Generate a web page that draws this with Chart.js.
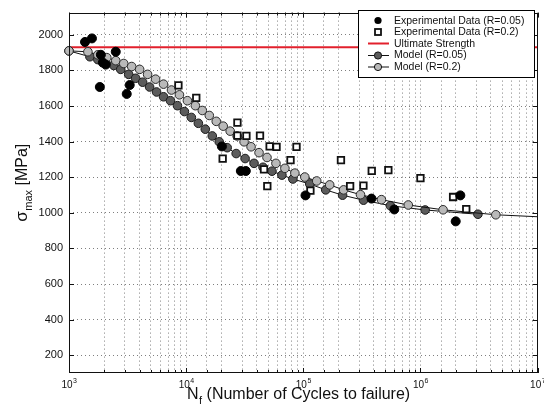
<!DOCTYPE html>
<html>
<head>
<meta charset="utf-8">
<script src="https://cdn.jsdelivr.net/npm/chart.js@4.4.1/dist/chart.umd.min.js"></script>
<style>
  html, body { margin: 0; padding: 0; background: #fff; }
  #wrap { width: 544px; height: 418px; }
</style>
</head>
<body>
<div id="wrap"><canvas id="c" width="544" height="418"></canvas></div>
<script>
// Experimental fatigue results: cycles to failure and maximum stress [MPa]
const expR005Cycles = [1370, 1570, 1870, 2507, 1944, 2060, 1833, 3298, 3110, 20190, 29300, 32300, 104400, 382000, 598000, 2190000, 2000000];
const expR005Stress = [1960, 1980, 1888, 1905, 1844, 1833, 1707, 1718, 1668, 1373, 1235, 1235, 1098, 1080, 1019, 1098, 952];

const expR02Cycles = [8590, 12200, 27400, 27400, 32700, 42700, 51600, 59100, 87500, 20500, 77800, 209600, 49300, 46200, 384000, 532000, 1000000, 251000, 326000, 115000, 1900000, 2460000];
const expR02Stress = [1716, 1646, 1507, 1434, 1432, 1434, 1373, 1370, 1370, 1304, 1296, 1296, 1150, 1244, 1236, 1240, 1195, 1150, 1153, 1125, 1089, 1021];

// Model predictions
const modelR005Cycles = [1000, 1508, 1763, 2062, 2411, 2764, 3232, 3707, 4251, 4875, 5590, 6410, 7348, 8428, 9663, 11080, 12710, 14570, 16710, 19160, 22400, 26720, 31860, 37970, 45310, 54020, 65680, 81450, 113600, 155300, 216500, 326400, 553500, 1097000, 3094000];
const modelR005Stress = [1910, 1877, 1861, 1844, 1828, 1806, 1778, 1756, 1734, 1707, 1679, 1652, 1630, 1602, 1569, 1536, 1503, 1470, 1432, 1399, 1366, 1333, 1305, 1278, 1256, 1234, 1212, 1190, 1162, 1129, 1099, 1071, 1040, 1016, 992];

const modelR02Cycles = [1000, 1450, 1763, 2102, 2507, 2932, 3428, 4009, 4688, 5482, 6410, 7494, 8764, 10250, 11980, 13740, 15760, 18070, 20720, 23760, 27240, 31230, 35820, 41900, 48980, 58420, 69660, 84720, 103000, 130200, 168000, 220800, 307700, 464300, 787000, 1560000, 4400000];
const modelR02Stress = [1910, 1905, 1888, 1872, 1855, 1839, 1822, 1806, 1778, 1751, 1723, 1690, 1663, 1630, 1602, 1575, 1547, 1514, 1487, 1459, 1432, 1399, 1371, 1338, 1311, 1278, 1250, 1223, 1201, 1179, 1157, 1129, 1102, 1074, 1044, 1017, 989];

// Model curve continues (without markers) to the end of the axis
const modelTailCycles = [10000000];
const modelTailStress = [978];

const ultimateStrength = 1930;
const ultimateCycles = [1000, 10000000];

// Axis ticks
const xDecades = [3, 4, 5, 6, 7];
const yTickValues = [200, 400, 600, 800, 1000, 1200, 1400, 1600, 1800, 2000];

const seriesNames = ['Experimental Data (R=0.05)', 'Experimental Data (R=0.2)', 'Ultimate Strength', 'Model (R=0.05)', 'Model (R=0.2)'];

const FONT = "'Liberation Sans', Arial, Helvetica, sans-serif";
const pts = (xs, ys) => xs.map((v, i) => ({ x: v, y: ys[i] }));

const darkFill = '#5c5c5c';
const lightFill = '#b9b9b9';
const redLine = '#e2202c';

const r02Points = pts(modelR02Cycles, modelR02Stress).concat(pts(modelTailCycles, modelTailStress));
const r02MarkerCount = modelR02Cycles.length;

const datasets = [
  {
    label: seriesNames[0], data: pts(expR005Cycles, expR005Stress),
    showLine: false, pointStyle: 'circle', pointRadius: 4.5,
    backgroundColor: '#000', borderColor: '#000', borderWidth: 1, clip: false
  },
  {
    label: seriesNames[1], data: pts(expR02Cycles, expR02Stress),
    showLine: false, pointStyle: 'rect', pointRadius: 4.6,
    backgroundColor: '#fff', borderColor: '#111', borderWidth: 1.8, clip: false
  },
  {
    label: seriesNames[4], data: r02Points,
    showLine: true, borderColor: '#111', borderWidth: 1,
    pointStyle: 'circle',
    pointRadius: ctx => (ctx.dataIndex >= r02MarkerCount ? 0 : 4.3),
    pointBackgroundColor: lightFill, pointBorderColor: '#2a2a2a', pointBorderWidth: 1,
    clip: false
  },
  {
    label: seriesNames[3], data: pts(modelR005Cycles, modelR005Stress),
    showLine: true, borderColor: '#111', borderWidth: 1,
    pointStyle: 'circle', pointRadius: 4.3,
    pointBackgroundColor: darkFill, pointBorderColor: '#1a1a1a', pointBorderWidth: 1,
    clip: false
  },
  {
    label: seriesNames[2], data: ultimateCycles.map(v => ({ x: v, y: ultimateStrength })),
    showLine: true, borderColor: redLine, borderWidth: 2, pointRadius: 0
  }
];

const isDecade = v => { const e = Math.log10(v); return Math.abs(e - Math.round(e)) < 1e-9; };

// Frame, inward tick marks, decade labels, axis titles and the legend box
const decorations = {
  id: 'decorations',
  afterDatasetsDraw(chart) {
    const { ctx, chartArea: a, scales: { x, y } } = chart;
    ctx.save();
    ctx.strokeStyle = '#111';
    ctx.lineWidth = 1;
    ctx.beginPath();
    x.ticks.forEach(t => {
      const px = Math.round(x.getPixelForValue(t.value)) + 0.5;
      const len = isDecade(t.value) ? 5 : 3;
      ctx.moveTo(px, a.bottom); ctx.lineTo(px, a.bottom - len);
      ctx.moveTo(px, a.top); ctx.lineTo(px, a.top + len);
    });
    yTickValues.forEach(v => {
      const py = Math.round(y.getPixelForValue(v)) + 0.5;
      ctx.moveTo(a.left, py); ctx.lineTo(a.left + 5, py);
      ctx.moveTo(a.right, py); ctx.lineTo(a.right - 5, py);
    });
    ctx.stroke();
    ctx.strokeRect(Math.round(a.left) + 0.5, Math.round(a.top) + 0.5,
                   Math.round(a.right - a.left) - 1, Math.round(a.bottom - a.top) - 1);

    // decade labels 10^n
    ctx.fillStyle = '#111';
    ctx.textBaseline = 'alphabetic';
    xDecades.forEach(d => {
      const px = x.getPixelForValue(Math.pow(10, d));
      ctx.font = '10px ' + FONT;
      const wBase = ctx.measureText('10').width;
      ctx.font = '7px ' + FONT;
      const wExp = ctx.measureText(String(d)).width;
      const start = px - (wBase + wExp) / 2;
      ctx.font = '10px ' + FONT;
      ctx.textAlign = 'left';
      ctx.fillText('10', start, 388);
      ctx.font = '7px ' + FONT;
      ctx.fillText(String(d), start + wBase + 0.5, 383);
    });

    // x-axis title with subscript
    ctx.textAlign = 'left';
    let cx = 187;
    ctx.font = '16px ' + FONT;
    ctx.fillText('N', cx, 399);
    cx += ctx.measureText('N').width + 0.5;
    ctx.font = '11px ' + FONT;
    ctx.fillText('f', cx, 404);
    cx += ctx.measureText('f').width;
    ctx.font = '16px ' + FONT;
    ctx.fillText(' (Number of Cycles to failure)', cx, 399);

    // y-axis title with subscript, rotated
    ctx.save();
    ctx.translate(27, 183);
    ctx.rotate(-Math.PI / 2);
    ctx.font = '17px ' + FONT;
    const wSig = ctx.measureText('σ').width;
    ctx.font = '11px ' + FONT;
    const wSub = ctx.measureText('max').width;
    ctx.font = '16px ' + FONT;
    const wUnit = ctx.measureText(' [MPa]').width;
    let u = -(wSig + wSub + wUnit) / 2;
    ctx.font = '17px ' + FONT;
    ctx.fillText('σ', u, 0);
    u += wSig + 0.5;
    ctx.font = '11px ' + FONT;
    ctx.fillText('max', u, 5);
    u += wSub;
    ctx.font = '16px ' + FONT;
    ctx.fillText(' [MPa]', u, 0);
    ctx.restore();
    ctx.restore();
  },
  afterDraw(chart) {
    const { ctx } = chart;
    const box = { x: 358, y: 10, w: 176, h: 67 };
    ctx.save();
    ctx.fillStyle = '#fff';
    ctx.fillRect(box.x, box.y, box.w, box.h);
    ctx.strokeStyle = '#000';
    ctx.lineWidth = 1;
    ctx.strokeRect(box.x + 0.5, box.y + 0.5, box.w, box.h);

    const sx = 378, tx = 394;
    const rows = [20.5, 32, 43.5, 55, 66.5];
    ctx.font = '10.5px ' + FONT;
    ctx.textBaseline = 'middle';
    ctx.textAlign = 'left';

    // filled circle
    ctx.fillStyle = '#000';
    ctx.beginPath(); ctx.arc(sx, rows[0], 3.6, 0, Math.PI * 2); ctx.fill();
    // open square
    ctx.fillStyle = '#fff'; ctx.strokeStyle = '#111'; ctx.lineWidth = 1.8;
    ctx.fillRect(sx - 3, rows[1] - 3, 6, 6); ctx.strokeRect(sx - 3, rows[1] - 3, 6, 6);
    // red line
    ctx.strokeStyle = redLine; ctx.lineWidth = 2;
    ctx.beginPath(); ctx.moveTo(368, rows[2]); ctx.lineTo(389, rows[2]); ctx.stroke();
    // model markers with line
    [[rows[3], darkFill], [rows[4], lightFill]].forEach(([ry, fill]) => {
      ctx.strokeStyle = '#111'; ctx.lineWidth = 1;
      ctx.beginPath(); ctx.moveTo(368, ry + 0.5); ctx.lineTo(389, ry + 0.5); ctx.stroke();
      ctx.fillStyle = fill;
      ctx.beginPath(); ctx.arc(sx, ry + 0.5, 3.6, 0, Math.PI * 2); ctx.fill(); ctx.stroke();
    });

    ctx.fillStyle = '#111';
    seriesNames.forEach((name, i) => ctx.fillText(name, tx, rows[i] + 0.5));
    ctx.restore();
  }
};

new Chart(document.getElementById('c'), {
  type: 'scatter',
  data: { datasets },
  options: {
    responsive: false,
    animation: false,
    devicePixelRatio: 1,
    layout: { padding: { left: 0, right: 5, top: 5, bottom: 0 } },
    plugins: { legend: { display: false }, tooltip: { enabled: false } },
    scales: {
      x: {
        type: 'logarithmic',
        min: 1000, max: 10000000,
        grid: { display: true, drawTicks: false, color: 'rgba(0,0,0,0.5)', lineWidth: 1 },
        border: { display: false, dash: [1, 3] },
        ticks: { display: false, autoSkip: false },
        afterFit: s => { s.height = 45; }
      },
      y: {
        type: 'linear',
        min: 100, max: 2125,
        afterBuildTicks: s => { s.ticks = yTickValues.map(v => ({ value: v })); },
        grid: { display: true, drawTicks: false, color: 'rgba(0,0,0,0.5)', lineWidth: 1 },
        border: { display: false, dash: [1, 3] },
        ticks: { padding: 6, color: '#111', font: { family: FONT, size: 11 }, callback: v => String(v) },
        afterFit: s => { s.width = 69; }
      }
    }
  },
  plugins: [decorations]
});
</script>
</body>
</html>
